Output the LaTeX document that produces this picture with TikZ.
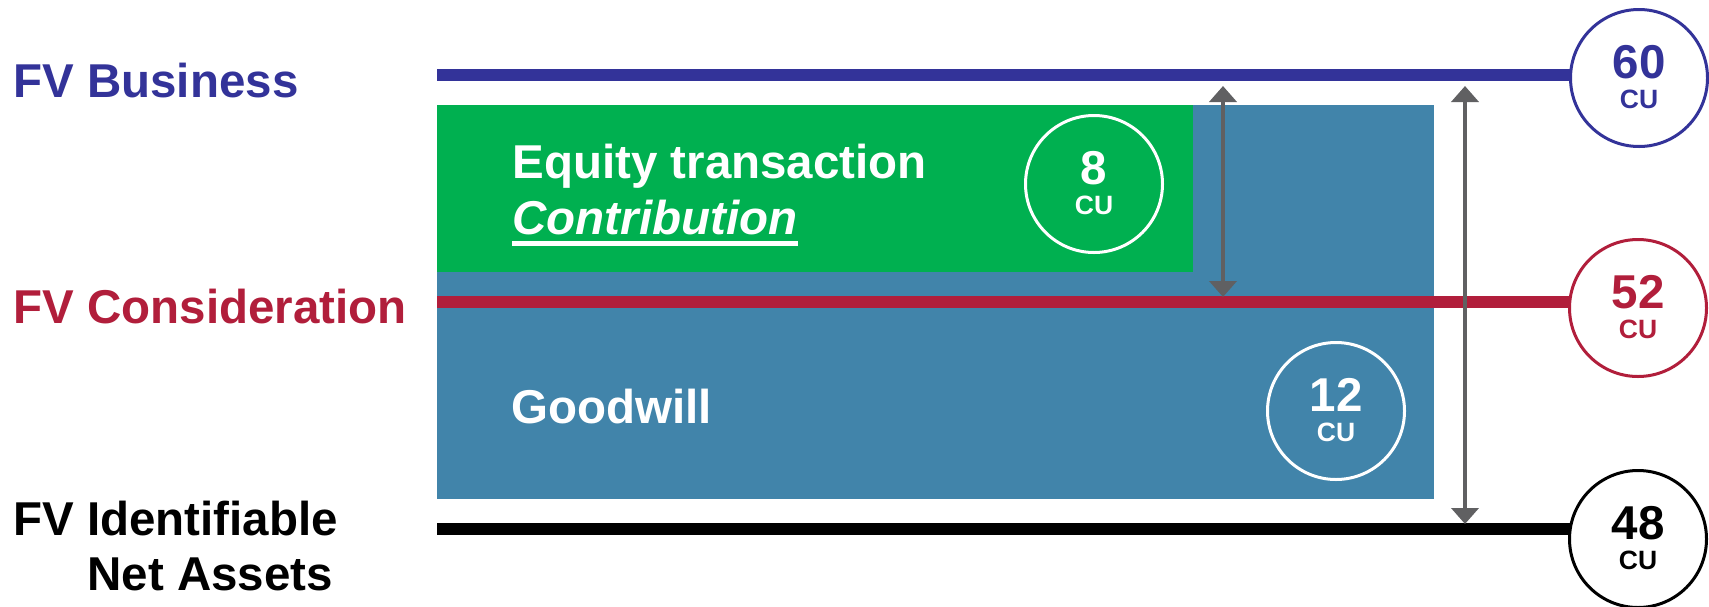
\documentclass[tikz,border=0pt]{standalone}
\usepackage{fontspec}
\setmainfont{Liberation Sans}
\usetikzlibrary{arrows.meta,backgrounds}
\definecolor{fvblue}{HTML}{333399}
\definecolor{fvred}{HTML}{B11E3B}
\definecolor{eqgreen}{HTML}{00B050}
\definecolor{gwsteel}{HTML}{4184AA}
\definecolor{arrgray}{HTML}{606062}
\begin{document}
\begin{tikzpicture}[x=0.5pt,y=-0.5pt,
  lbl/.style={inner sep=0pt, anchor=base west, font=\fontsize{23.75pt}{28pt}\selectfont\bfseries},
  lblit/.style={inner sep=0pt, anchor=base west, font=\fontsize{23.75pt}{28pt}\selectfont\bfseries\itshape},
  valcirc/.style={circle, draw=#1, line width=1.5pt, fill=white, minimum size=68.5pt, inner sep=0pt},
  ringcirc/.style={circle, draw=white, line width=1.5pt, minimum size=68.5pt, inner sep=0pt},
  num/.style={inner sep=0pt, anchor=base, font=\fontsize{23.75pt}{28pt}\selectfont\bfseries},
  cu/.style={inner sep=0pt, anchor=base, font=\fontsize{13.25pt}{16pt}\selectfont\bfseries},
  levelline/.style={line width=6pt},
  spanarrow/.style={draw=arrgray, line width=2pt, {Triangle[width=13.5pt,length=8pt]}-{Triangle[width=13.5pt,length=8pt]}}
]
\useasboundingbox (0,0) rectangle (1709,606);

% value circles
\node[valcirc=fvblue] (c60) at (1639,78) {};
\node[valcirc=fvred] (c52) at (1638,308) {};
\node[valcirc=black] (c48) at (1638,539) {};

% left ends of the level lines
\coordinate (bL) at (437,75);
\coordinate (rL) at (437,302);
\coordinate (kL) at (437,529);

\begin{scope}[on background layer]
  \fill[gwsteel] (437,105) rectangle (1434,499);
  \fill[eqgreen] (437,105) rectangle (1193,272);
  \draw[levelline, fvblue] (bL) -- (bL -| c60.center);
  \draw[levelline, fvred] (rL) -- (rL -| c52.center);
  \draw[levelline, black] (kL) -- (kL -| c48.center);
\end{scope}

% span arrows
\coordinate (a1t) at (1223,86);
\coordinate (a1b) at (1223,297);
\coordinate (a2t) at (1465,86);
\coordinate (a2b) at (1465,524);
\draw[spanarrow] (a1t) -- (a1b);
\draw[spanarrow] (a2t) -- (a2b);

% inner circles
\node[ringcirc] (c8) at (1094,184) {};
\node[ringcirc] (c12) at (1336,411) {};

% circle texts
\node[num, fvblue] (n60) at (c60.center) {60};
\node[cu, fvblue] (u60) at ([yshift=-15pt]c60.center) {CU};
\node[num, fvred] (n52) at (c52.center) {52};
\node[cu, fvred] (u52) at ([yshift=-15pt]c52.center) {CU};
\node[num, black] (n48) at (c48.center) {48};
\node[cu, black] (u48) at ([yshift=-15pt]c48.center) {CU};
\node[num, white] (n8) at (c8.center) {8};
\node[cu, white] (u8) at ([yshift=-15pt]c8.center) {CU};
\node[num, white] (n12) at (c12.center) {12};
\node[cu, white] (u12) at ([yshift=-15pt]c12.center) {CU};

% labels
\node[lbl, fvblue] (tBus) at (13,97) {FV Business};
\node[lbl, fvred] (tCon) at (13,323) {FV Consideration};
\node[lbl, black] (tId1) at (13,535) {FV Identifiable};
\node[lbl, black] (tId2) at (87,590) {Net Assets};
\node[lbl, white] (tEq) at (512,178) {Equity transaction};
\node[lblit, white] (tCo) at (512,234) {Contribution};
\draw[white, line width=2.5pt] ([yshift=-4.5pt]tCo.base west) -- ([yshift=-4.5pt]tCo.base east);
\node[lbl, white] (tGw) at (511,423) {Goodwill};
\end{tikzpicture}
\end{document}
